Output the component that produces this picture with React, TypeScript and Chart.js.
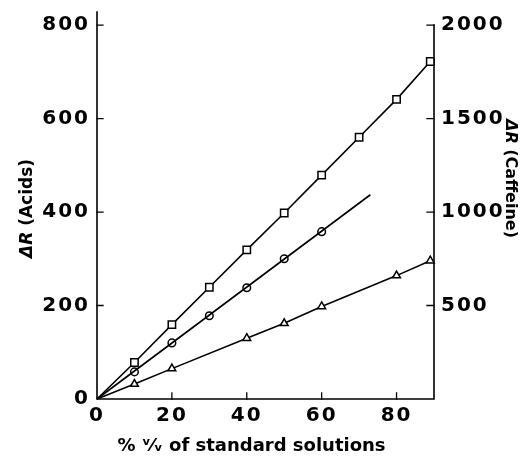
import React, { useEffect, useRef } from "react";
import { Chart, registerables } from "chart.js";

Chart.register(...registerables);

// % v/v of standard solutions
const squareX = [0, 10, 20, 30, 40, 50, 60, 70, 80, 89];
const squareY = [0, 78, 159, 239, 319, 398, 479, 560, 641, 722];
const circleX = [10, 20, 30, 40, 50, 60];
const circleY = [58, 120, 178, 238, 300, 358];
const circleFitX = [0, 73];
const circleFitY = [0, 437];
const triangleX = [0, 10, 20, 40, 50, 60, 80, 89];
const triangleY = [0, 32, 65, 130, 162, 198, 264, 296];

const xTicks = [0, 20, 40, 60, 80];
const acidTicks = [0, 200, 400, 600, 800];
const caffeineTicks = [500, 1000, 1500, 2000];
const xMax = 90;
const acidMax = 828;
const caffeinePerAcid = 2.5;

const xTitle = ["", "% ᵛ⁄ᵥ of standard solutions"];
const acidTitle = ["ΔR", " (Acids)"];
const caffeineTitle = ["ΔR", " (Caffeine)"];

const pts = (xs: number[], ys: number[]) => xs.map((x, i) => ({ x, y: ys[i] }));

const FONT = "'DejaVu Sans', sans-serif";

function drawTitle(ctx: any, parts: string[], cx: number, cy: number, rot: number, size: number) {
  ctx.save();
  ctx.letterSpacing = "0px";
  ctx.translate(cx, cy);
  ctx.rotate(rot);
  ctx.fillStyle = "#000";
  ctx.textBaseline = "middle";
  ctx.textAlign = "left";
  const fonts = [`italic bold ${size}px ${FONT}`, `bold ${size}px ${FONT}`];
  let total = 0;
  const widths = parts.map((p, i) => {
    ctx.font = fonts[i];
    const w = ctx.measureText(p).width;
    total += w;
    return w;
  });
  let x = -total / 2;
  parts.forEach((p, i) => {
    ctx.font = fonts[i];
    ctx.fillText(p, x, 0);
    x += widths[i];
  });
  ctx.restore();
}

const axesPlugin = {
  id: "paperAxes",
  beforeDraw(chart: any) {
    chart.ctx.letterSpacing = "2px";
  },
  beforeDatasetsDraw(chart: any) {
    const { ctx, chartArea } = chart;
    const xs = chart.scales.x;
    const ys = chart.scales.y;
    const y1 = chart.scales.y1;
    ctx.save();
    ctx.strokeStyle = "#000";
    ctx.lineWidth = 1.6;
    ctx.lineCap = "square";
    const bottom = ys.getPixelForValue(0);
    const left = xs.getPixelForValue(0);
    const right = xs.getPixelForValue(xMax);
    ctx.beginPath();
    ctx.moveTo(left, chartArea.top);
    ctx.lineTo(left, bottom);
    ctx.lineTo(right, bottom);
    ctx.lineTo(right, y1.getPixelForValue(caffeineTicks[caffeineTicks.length - 1]));
    ctx.stroke();
    ctx.lineWidth = 1.3;
    ctx.beginPath();
    acidTicks.forEach((v) => {
      if (v === 0) return;
      const p = ys.getPixelForValue(v);
      ctx.moveTo(left, p);
      ctx.lineTo(left + 6, p);
    });
    caffeineTicks.forEach((v) => {
      const p = y1.getPixelForValue(v);
      ctx.moveTo(right, p);
      ctx.lineTo(right - 7, p);
    });
    xTicks.forEach((v) => {
      if (v === 0) return;
      const p = xs.getPixelForValue(v);
      ctx.moveTo(p, bottom);
      ctx.lineTo(p, bottom - 6);
    });
    ctx.stroke();
    ctx.restore();
  },
  afterDraw(chart: any) {
    const { ctx, chartArea } = chart;
    drawTitle(ctx, xTitle, (chartArea.left + chartArea.right) / 2 - 14, chartArea.bottom + 47, 0, 18);
    drawTitle(ctx, acidTitle, chartArea.left - 69, (chartArea.top + chartArea.bottom) / 2 + 3, -Math.PI / 2, 17);
    drawTitle(ctx, caffeineTitle, chartArea.right + 76, (chartArea.top + chartArea.bottom) / 2 - 27, Math.PI / 2, 16);
  },
};

const noPad = (s: any) => {
  s.paddingTop = 0;
  s.paddingBottom = 0;
  s.paddingLeft = 0;
  s.paddingRight = 0;
};

export default function App() {
  const ref = useRef<HTMLCanvasElement | null>(null);
  useEffect(() => {
    if (!ref.current) return;
    const common = {
      borderColor: "#000",
      borderWidth: 1.6,
      pointBorderColor: "#000",
      pointBackgroundColor: "#fff",
      pointBorderWidth: 1.5,
      showLine: true,
      tension: 0,
      clip: false as any,
    };
    const tickFont = { family: FONT, size: 20, weight: "bold" };
    const chart = new Chart(ref.current, {
      type: "scatter",
      data: {
        datasets: [
          {
            ...common,
            label: "squares",
            data: pts(squareX, squareY),
            pointStyle: "rect",
            pointRadius: squareX.map((x) => (x === 0 ? 0 : 5.2)),
          },
          {
            ...common,
            label: "circle fit",
            data: pts(circleFitX, circleFitY),
            pointRadius: 0,
          },
          {
            ...common,
            label: "circles",
            data: pts(circleX, circleY),
            showLine: false,
            pointStyle: "circle",
            pointRadius: 3.8,
          },
          {
            ...common,
            label: "triangles",
            data: pts(triangleX, triangleY),
            pointStyle: "triangle",
            pointRadius: triangleX.map((x) => (x === 0 ? 0 : 4.5)),
          },
        ],
      },
      options: {
        animation: false,
        responsive: false,
        events: [],
        layout: { padding: { top: 12, left: 0, right: 0, bottom: 0 } },
        plugins: { legend: { display: false }, tooltip: { enabled: false } },
        scales: {
          x: {
            type: "linear",
            min: 0,
            max: xMax,
            afterFit: (s: any) => {
              s.height = 58;
              noPad(s);
            },
            afterBuildTicks: (s: any) => {
              s.ticks = xTicks.map((v) => ({ value: v }));
            },
            grid: { display: false, drawTicks: false },
            border: { display: false },
            ticks: {
              color: "#000",
              padding: 5,
              maxRotation: 0,
              font: tickFont,
              callback: (v: any) => String(v),
            },
          },
          y: {
            type: "linear",
            position: "left",
            min: 0,
            max: acidMax,
            afterFit: (s: any) => {
              s.width = 97;
              noPad(s);
            },
            afterBuildTicks: (s: any) => {
              s.ticks = acidTicks.map((v) => ({ value: v }));
            },
            grid: { display: false, drawTicks: false },
            border: { display: false },
            ticks: {
              color: "#000",
              padding: 7,
              font: tickFont,
              callback: (v: any) => String(v),
            },
          },
          y1: {
            type: "linear",
            position: "right",
            min: 0,
            max: acidMax * caffeinePerAcid,
            afterFit: (s: any) => {
              s.width = 90;
              noPad(s);
            },
            afterBuildTicks: (s: any) => {
              s.ticks = caffeineTicks.map((v) => ({ value: v }));
            },
            grid: { display: false, drawTicks: false },
            border: { display: false },
            ticks: {
              color: "#000",
              padding: 7,
              font: tickFont,
              callback: (v: any) => String(v),
            },
          },
        },
      },
      plugins: [axesPlugin],
    } as any);
    return () => chart.destroy();
  }, []);
  return (
    <div style={{ position: "fixed", left: 0, top: 0, width: 524, height: 457, background: "#fff" }}>
      <canvas ref={ref} width={524} height={457} style={{ width: 524, height: 457 }} />
    </div>
  );
}
